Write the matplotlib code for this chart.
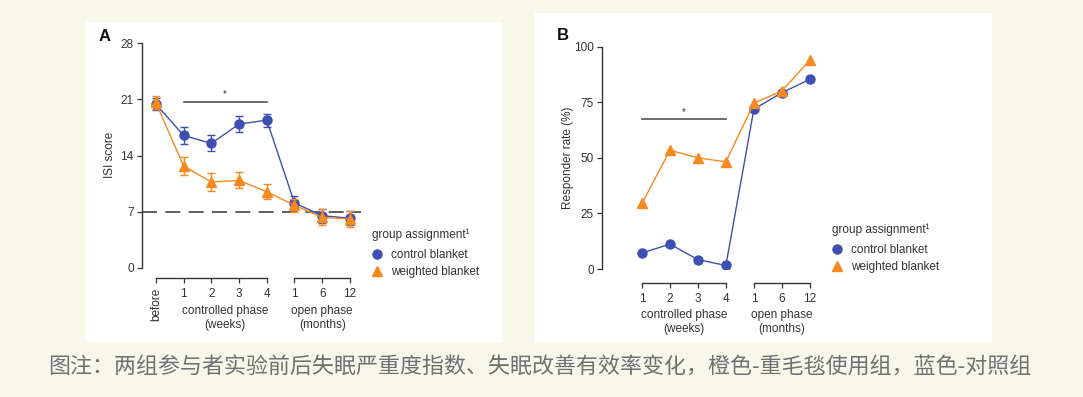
import matplotlib
matplotlib.use('Agg')
import matplotlib.pyplot as plt
from matplotlib.patches import Rectangle
from matplotlib.lines import Line2D

plt.rcParams['font.family'] = ['Liberation Sans', 'DejaVu Sans']

W, H = 1083, 397
BLUE = '#3d4fb0'
ORANGE = '#f7891f'
INK = '#333333'

# panel A - ISI score
isi_pos = [0, 1, 2, 3, 4, 5, 6, 7]
isi_ticks = ['before', '1', '2', '3', '4', '1', '6', '12']
isi_control = [20.4, 16.5, 15.5, 17.9, 18.4, 8.1, 6.5, 6.2]
isi_control_err = [0.7, 1.1, 1.0, 1.0, 0.8, 0.9, 0.9, 0.9]
isi_weighted = [20.6, 12.7, 10.7, 10.9, 9.5, 7.8, 6.3, 6.1]
isi_weighted_err = [0.8, 1.1, 1.1, 1.0, 0.9, 0.8, 1.0, 1.0]
isi_cutoff = 7
isi_sig = 20.6

# panel B - responder rate
resp_pos = [1, 2, 3, 4, 5, 6, 7]
resp_ticks = ['1', '2', '3', '4', '1', '6', '12']
resp_control = [7.2, 11.2, 4.2, 1.6, 71.9, 79.3, 85.3]
resp_weighted = [29.5, 53.4, 50.0, 48.2, 74.6, 80.1, 93.9]
resp_sig = 67.4

caption = '图注：两组参与者实验前后失眠严重度指数、失眠改善有效率变化，橙色-重毛毯使用组，蓝色-对照组'

fig = plt.figure(figsize=(W / 100, H / 100), dpi=100)
fig.patch.set_facecolor('#f8f8ea')


def px_rect(l, t, r, b):
    return [l / W, 1 - b / H, (r - l) / W, (b - t) / H]


# white panels
for l, t, r, b in [(86, 22, 502, 342), (535, 13, 992, 342)]:
    x0, y0, w, h = px_rect(l, t, r, b)
    fig.patches.append(Rectangle((x0, y0), w, h, transform=fig.transFigure,
                                 facecolor='white', edgecolor='none', zorder=-10))


def style_axes(ax, xlim, ylim, yticks, ticks_pos, ticks_lab, seg1, seg2, off_px):
    ax.set_xlim(*xlim)
    ax.set_ylim(*ylim)
    ax.patch.set_alpha(0)
    ax.set_yticks(yticks)
    ax.tick_params(axis='y', length=3.5, width=0.9, color=INK, labelcolor=INK,
                   labelsize=8.5, pad=2.5)
    # split x axis: two brackets
    n1 = [p for p in ticks_pos if seg1[0] <= p <= seg1[1]]
    n2 = [p for p in ticks_pos if seg2[0] <= p <= seg2[1]]
    lab1 = ticks_lab[:len(n1)]
    lab2 = ticks_lab[len(n1):]
    axt = ax.twiny()
    axt.set_xlim(*xlim)
    axt.patch.set_alpha(0)
    for a, pos, lab, seg in [(ax, n1, lab1, seg1), (axt, n2, lab2, seg2)]:
        for s in ['top', 'right', 'left']:
            a.spines[s].set_visible(False)
        a.spines['bottom'].set_visible(True)
        a.spines['bottom'].set_position(('outward', off_px * 0.72))
        a.spines['bottom'].set_bounds(*seg)
        a.spines['bottom'].set_color(INK)
        a.spines['bottom'].set_linewidth(1.0)
        a.xaxis.set_ticks_position('bottom')
        a.xaxis.set_label_position('bottom')
        a.set_xticks(pos)
        a.set_xticklabels(lab)
        a.tick_params(axis='x', length=3.5, width=0.9, color=INK, labelcolor=INK,
                      labelsize=8.5, pad=3.5)
    ax.spines['left'].set_visible(True)
    ax.spines['left'].set_color(INK)
    ax.spines['left'].set_linewidth(1.0)
    return axt


def group_labels(ax, y1, y2):
    for xc, top, bot in [(2.5, 'controlled phase', '(weeks)'), (6, 'open phase', '(months)')]:
        ax.annotate(top, xy=(xc, 0), xycoords=('data', 'axes fraction'),
                    xytext=(0, y1), textcoords='offset pixels',
                    ha='center', va='center', fontsize=8.5, color=INK)
        ax.annotate(bot, xy=(xc, 0), xycoords=('data', 'axes fraction'),
                    xytext=(0, y2), textcoords='offset pixels',
                    ha='center', va='center', fontsize=8.5, color=INK)


def add_legend(ax, x, y_title, y_mid):
    fig.text(x / W, 1 - y_title / H, 'group assignment¹', ha='left', va='center',
             fontsize=8.5, color=INK)
    handles = [Line2D([], [], ls='none', marker='o', ms=6.5, color=BLUE),
               Line2D([], [], ls='none', marker='^', ms=7.5, color=ORANGE)]
    leg = ax.legend(handles, ['control blanket', 'weighted blanket'],
                    loc='center left',
                    bbox_to_anchor=(x / W, 1 - y_mid / H), bbox_transform=fig.transFigure,
                    frameon=False, fontsize=8.5,
                    handlelength=0.8, handletextpad=0.85, labelspacing=0.45,
                    borderpad=0, borderaxespad=0)
    for t in leg.get_texts():
        t.set_color(INK)


# ---------- panel A ----------
axA = fig.add_axes(px_rect(142, 43, 361, 268))
axAt = style_axes(axA, (-0.5, 7.4), (0, 28), [0, 7, 14, 21, 28],
                  isi_pos, isi_ticks, (0, 4), (5, 7), 10)
axA.get_xticklabels()[0].set_rotation(90)
axA.axhline(isi_cutoff, color='#444444', lw=1.2, ls=(0, (9, 5)), zorder=1)
axA.errorbar(isi_pos, isi_control, yerr=isi_control_err, color=BLUE, marker='o',
             ms=6.5, lw=1.0, elinewidth=1.0, capsize=3, capthick=1.0, zorder=3)
axA.errorbar(isi_pos, isi_weighted, yerr=isi_weighted_err, color=ORANGE, marker='^',
             ms=7.5, lw=1.0, elinewidth=1.0, capsize=3, capthick=1.0, zorder=4)
axA.plot([1, 4], [isi_sig, isi_sig], color='#555555', lw=1.2)
axA.text(2.5, isi_sig + 0.4, '*', ha='center', va='bottom', fontsize=7, color=INK)
group_labels(axA, -43, -57)
add_legend(axA, 372, 235, 263.5)

# ---------- panel B ----------
axB = fig.add_axes(px_rect(602, 46.7, 821, 269))
axBt = style_axes(axB, (-0.43, 7.4), (0, 100), [0, 25, 50, 75, 100],
                  resp_pos, resp_ticks, (1, 4), (5, 7), 14)
axB.plot(resp_pos, resp_control, color=BLUE, marker='o', ms=6.5, lw=1.0, zorder=3)
axB.plot(resp_pos, resp_weighted, color=ORANGE, marker='^', ms=7.5, lw=1.0, zorder=4)
axB.plot([1, 4], [resp_sig, resp_sig], color='#555555', lw=1.2)
axB.text(2.5, resp_sig + 0.8, '*', ha='center', va='bottom', fontsize=7, color=INK)
group_labels(axB, -46, -60)
add_legend(axB, 832, 230, 258.5)

# axis titles and panel letters
fig.text(110 / W, 1 - 155 / H, 'ISI score', rotation=90, ha='center', va='center',
         fontsize=8.5, color=INK)
fig.text(568 / W, 1 - 158 / H, 'Responder rate (%)', rotation=90, ha='center',
         va='center', fontsize=8.5, color=INK)
fig.text(99 / W, 1 - 36.5 / H, 'A', ha='left', va='center', fontsize=12,
         fontweight='bold', color='#111111')
fig.text(557 / W, 1 - 35 / H, 'B', ha='left', va='center', fontsize=12,
         fontweight='bold', color='#111111')

fig.text(48 / W, 1 - 368 / H, caption, ha='left', va='center', fontsize=15.8,
         color='#707070', family=['Noto Sans CJK SC', 'DejaVu Sans'])

fig.savefig('out.png', dpi=100, facecolor=fig.get_facecolor())
